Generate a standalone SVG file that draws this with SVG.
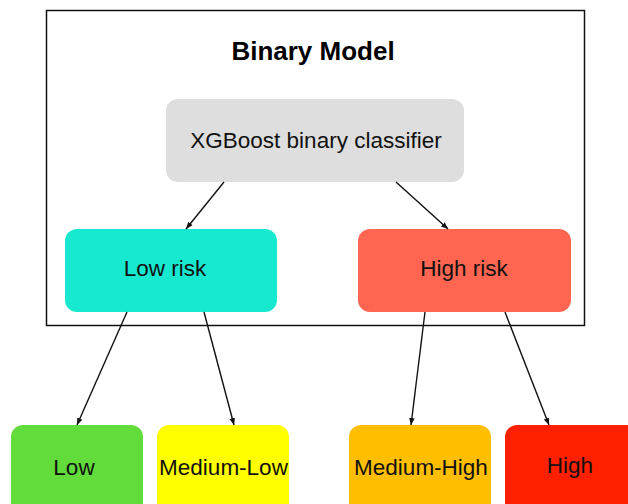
<svg xmlns="http://www.w3.org/2000/svg" width="628" height="504" viewBox="0 0 628 504">
  <style>
    .lbl { font-family: "Liberation Sans", Arial, sans-serif; font-size: 22.5px; fill: #111; text-anchor: middle; }
    .title { font-family: "Liberation Sans", Arial, sans-serif; font-size: 26px; font-weight: bold; fill: #000; text-anchor: middle; }
    .edge { stroke: #111; stroke-width: 1.4; fill: none; marker-end: url(#arrow); }
  </style>
  <defs>
    <marker id="arrow" viewBox="0 0 10 10" refX="10" refY="5" markerWidth="7" markerHeight="7" markerUnits="userSpaceOnUse" orient="auto">
      <path d="M0,1 L10,5 L0,9 z" fill="#111"/>
    </marker>
  </defs>
  <rect width="628" height="504" fill="#fff"/>

  <!-- container for the binary model -->
  <g id="binary-model">
    <rect x="46.5" y="10.5" width="538" height="315" fill="none" stroke="#111" stroke-width="1.5"/>
    <text class="title" x="313" y="60">Binary Model</text>
  </g>

  <g id="xgboost">
    <rect x="166" y="99" width="298" height="83" rx="12" fill="#dedede"/>
    <text class="lbl" x="316" y="148">XGBoost binary classifier</text>
  </g>

  <g id="low-risk">
    <rect x="65" y="229" width="212" height="83" rx="12" fill="#17e8d0"/>
    <text class="lbl" x="165" y="276">Low risk</text>
  </g>

  <g id="high-risk">
    <rect x="358" y="229" width="213" height="83" rx="12" fill="#ff6550"/>
    <text class="lbl" x="464" y="276">High risk</text>
  </g>

  <g id="low">
    <rect x="11" y="425" width="132" height="95" rx="12" fill="#62dc3a"/>
    <text class="lbl" x="74" y="475">Low</text>
  </g>

  <g id="medium-low">
    <rect x="157" y="425" width="132" height="95" rx="12" fill="#ffff00"/>
    <text class="lbl" x="223.5" y="475">Medium-Low</text>
  </g>

  <g id="medium-high">
    <rect x="349" y="425" width="142" height="95" rx="12" fill="#ffbf00"/>
    <text class="lbl" x="421" y="475">Medium-High</text>
  </g>

  <g id="high">
    <rect x="505" y="425" width="140" height="95" rx="12" fill="#ff2000"/>
    <text class="lbl" x="570" y="473">High</text>
  </g>

  <!-- connectors -->
  <g id="connectors">
    <line class="edge" x1="224" y1="182" x2="186" y2="229"/>
    <line class="edge" x1="396" y1="182" x2="448" y2="229"/>
    <line class="edge" x1="127" y1="312" x2="77" y2="425"/>
    <line class="edge" x1="204" y1="312" x2="234" y2="425"/>
    <line class="edge" x1="425" y1="312" x2="411" y2="425"/>
    <line class="edge" x1="505" y1="312" x2="549" y2="425"/>
  </g>
</svg>
